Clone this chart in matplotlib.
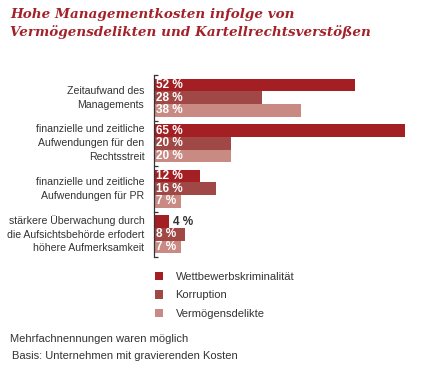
import matplotlib
matplotlib.use("Agg")
import matplotlib.pyplot as plt
from matplotlib.patches import Patch

categories = [
    "Zeitaufwand des\nManagements",
    "finanzielle und zeitliche\nAufwendungen für den\nRechtsstreit",
    "finanzielle und zeitliche\nAufwendungen für PR",
    "stärkere Überwachung durch\ndie Aufsichtsbehörde erfodert\nhöhere Aufmerksamkeit",
]
series_names = ["Wettbewerbskriminalität", "Korruption", "Vermögensdelikte"]
wettbewerb = [52, 65, 12, 4]
korruption = [28, 20, 16, 8]
vermoegen = [38, 20, 7, 7]
series = [wettbewerb, korruption, vermoegen]
colors = ["#a41f24", "#a04845", "#c98a84"]

W, H = 446, 371
fig = plt.figure(figsize=(W / 100, H / 100), dpi=100)
plt.rcParams['font.family'] = ['Liberation Sans', 'DejaVu Sans']

# axes in pixel coords
ax_left, ax_right, ax_top, ax_bot = 154, 420, 75, 257
ax = fig.add_axes([ax_left / W, 1 - ax_bot / H, (ax_right - ax_left) / W, (ax_bot - ax_top) / H])

n = len(categories)
bar_h = 0.278
pad = (1 - 3 * bar_h) / 2
xmax = 65 * (ax_right - ax_left) / (405 - ax_left)
for s, (vals, col) in enumerate(zip(series, colors)):
    for i, v in enumerate(vals):
        y0 = i + pad + s * bar_h
        ax.barh(y0, v, height=bar_h, align='edge', color=col, edgecolor='none')
        if v >= 6:
            ax.text(0.6, y0 + bar_h / 2, f"{v} %", color='white', fontweight='bold',
                    fontsize=8.5, va='center', ha='left')
        else:
            ax.text(v + 0.8, y0 + bar_h / 2, f"{v} %", color='#333333', fontweight='bold',
                    fontsize=8.5, va='center', ha='left')

ax.set_xlim(0, xmax)
ax.set_ylim(n, 0)
for sp in ['top', 'right', 'bottom']:
    ax.spines[sp].set_visible(False)
ax.spines['left'].set_color('#333333')
ax.spines['left'].set_linewidth(0.9)
ax.set_xticks([])
ax.set_yticks(range(n + 1))
ax.tick_params(axis='y', direction='in', length=3, width=0.9, color='#333333', labelleft=False)

for i, c in enumerate(categories):
    ax.text(-2.5, i + 0.5, c, ha='right', va='center', fontsize=7.6, color='#333333',
            linespacing=1.47)

# title
fig.text(10 / W, 1 - 8 / H, "Hohe Managementkosten infolge von\nVermögensdelikten und Kartellrechtsverstößen",
         ha='left', va='top', color='#a3222a', fontsize=9.7, fontweight='bold', fontstyle='italic',
         family=['DejaVu Serif'], linespacing=1.4)

handles = [Patch(facecolor=c, edgecolor='none') for c in colors]
fig.legend(handles, series_names, loc='upper left', bbox_to_anchor=(145 / W, 1 - 262 / H),
           frameon=False, fontsize=8, handlelength=0.75, handleheight=0.75, handletextpad=1.1,
           labelspacing=0.75, labelcolor='#333333')

fig.text(10 / W, 1 - 339 / H, "Mehrfachnennungen waren möglich", ha='left', va='center',
         fontsize=8, color='#333333')
fig.text(12 / W, 1 - 356 / H, "Basis: Unternehmen mit gravierenden Kosten", ha='left', va='center',
         fontsize=8, color='#333333')

fig.savefig("out.png", dpi=100)
